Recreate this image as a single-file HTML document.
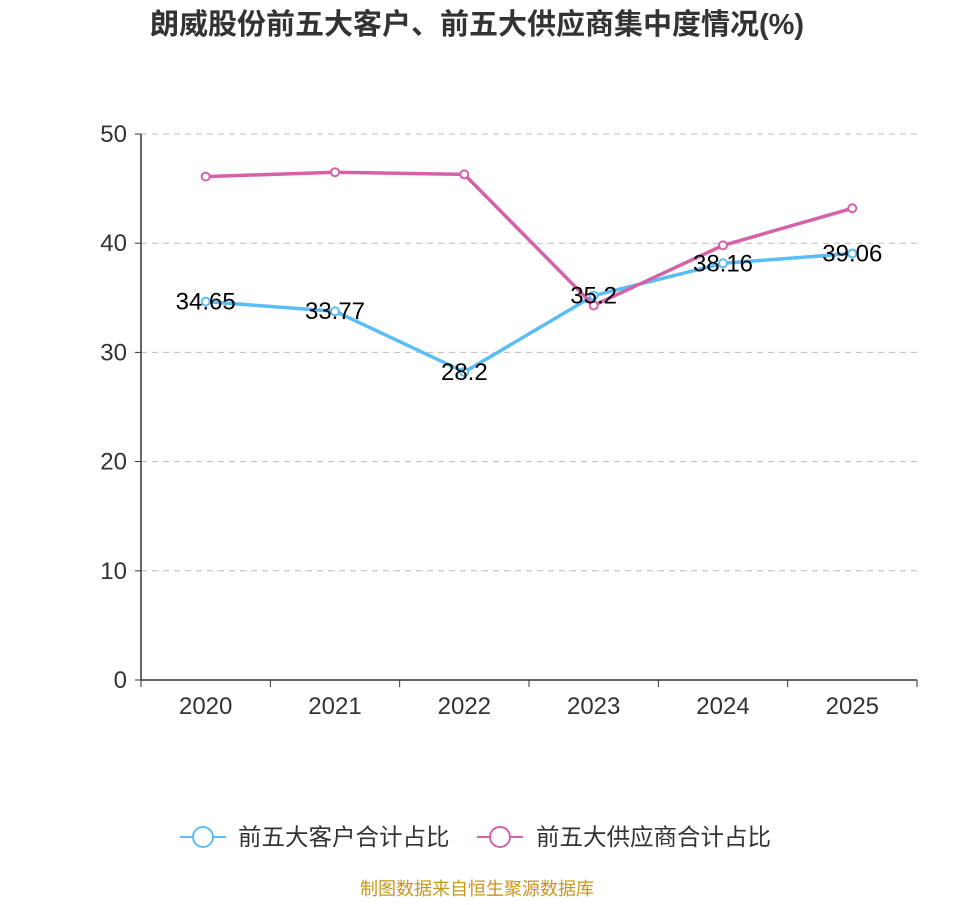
<!DOCTYPE html>
<html><head><meta charset="utf-8">
<style>
body{margin:0;background:#fff;width:954px;height:900px;overflow:hidden;font-family:"Liberation Sans","Noto Sans CJK SC",sans-serif;}
</style></head>
<body>
<svg id="chart" width="954" height="900" xmlns="http://www.w3.org/2000/svg" font-family="Liberation Sans, Noto Sans CJK SC, sans-serif">
<text x="477" y="34" text-anchor="middle" font-size="29" font-weight="bold" fill="#333">朗威股份前五大客户、前五大供应商集中度情况(%)</text>
<g id="grid"></g><g id="axes"></g><g id="series"></g><g id="labels"></g>
<g>
<g>
<line x1="180" y1="837" x2="226" y2="837" stroke="#5bbdf4" stroke-width="2"/>
<circle cx="203" cy="837" r="10" fill="#fff" stroke="#5bbdf4" stroke-width="2"/>
<text x="238" y="845" font-size="23.5" fill="#333">前五大客户合计占比</text></g>
<g>
<line x1="477" y1="837" x2="523" y2="837" stroke="#d462a8" stroke-width="2"/>
<circle cx="500" cy="837" r="10" fill="#fff" stroke="#d462a8" stroke-width="2"/>
<text x="536" y="845" font-size="23.5" fill="#333">前五大供应商合计占比</text></g>
</g>
<text x="477" y="895" text-anchor="middle" font-size="18" fill="#c8961e">制图数据来自恒生聚源数据库</text>
</svg>
<script>
const categories=["2020","2021","2022","2023","2024","2025"];
const customerValues=[34.65,33.77,28.2,35.2,38.16,39.06];
const supplierValues=[46.1,46.5,46.3,34.3,39.8,43.2];
const yTicks=[0,10,20,30,40,50];
const NS="http://www.w3.org/2000/svg";
const x0=141,x1=917,yBase=680,yTop=134,yMax=50;
const band=(x1-x0)/categories.length;
const xs=i=>x0+band*(i+0.5);
const ys=v=>yBase-(yBase-yTop)*v/yMax;
function mk(tag,attrs,parent,text){const e=document.createElementNS(NS,tag);for(const k in attrs)e.setAttribute(k,attrs[k]);if(text!==undefined)e.textContent=text;document.getElementById(parent).appendChild(e);return e;}
yTicks.forEach(t=>{
  if(t>0){const g=mk('line',{x1:x0,x2:x1,y1:ys(t),y2:ys(t),stroke:'#bbb','stroke-dasharray':'6,5'},'grid');
  
  }
  const tk=mk('line',{x1:x0-6,x2:x0,y1:ys(t),y2:ys(t),stroke:'#333'},'axes');
  
  
  const l=mk('text',{x:x0-14,y:ys(t)+8,'text-anchor':'end','font-size':'24',fill:'#333'},'axes',t);
  
  
});
const ya=mk('line',{x1:x0,x2:x0,y1:yTop,y2:yBase,stroke:'#333','stroke-width':1.5},'axes');


const xa=mk('line',{x1:x0,x2:x1,y1:yBase,y2:yBase,stroke:'#333','stroke-width':1.5},'axes');


for(let i=0;i<=categories.length;i++){const t=mk('line',{x1:x0+band*i,x2:x0+band*i,y1:yBase,y2:yBase+7,stroke:'#333'},'axes');

}
categories.forEach((c,i)=>{const l=mk('text',{x:xs(i),y:yBase+34,'text-anchor':'middle','font-size':'24',fill:'#333'},'axes',c);

});
function series(vals,color,name){
  const p=mk('polyline',{points:vals.map((v,i)=>xs(i)+','+ys(v)).join(' '),fill:'none',stroke:color,'stroke-width':3.5,'stroke-linejoin':'round'},'series');
  
  
  vals.forEach((v,i)=>{const c=mk('circle',{cx:xs(i),cy:ys(v),r:4,fill:'#fff',stroke:color,'stroke-width':2},'series');
  
  });
}
series(customerValues,'#5bbdf4','customers');
series(supplierValues,'#d462a8','suppliers');
customerValues.forEach((v,i)=>{const l=mk('text',{x:xs(i),y:ys(v)+8,'text-anchor':'middle','font-size':'24',fill:'#000'},'labels',v);

});
</script>
</body></html>
